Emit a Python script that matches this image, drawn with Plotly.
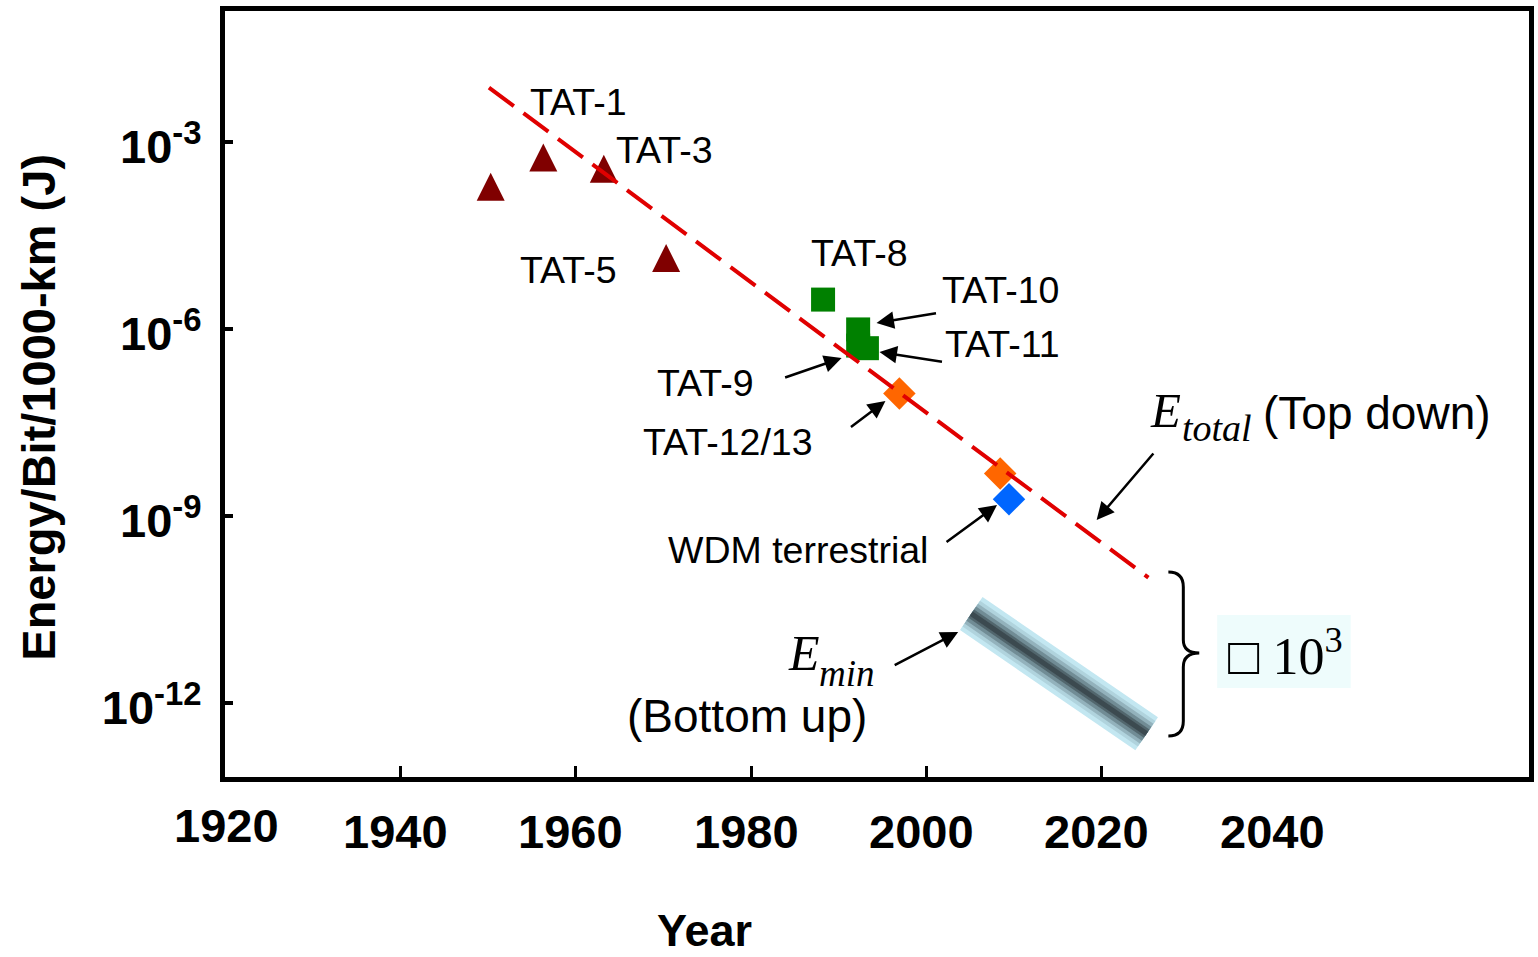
import plotly.graph_objects as go

# ---------------- data ----------------
tri_years = [1950.3, 1956.3, 1963.2, 1970.3]
tri_energy = [3.2e-4, 9.4e-4, 6.2e-4, 2.3e-5]
tri_names = ["", "TAT-1", "TAT-3", "TAT-5"]

sq_years = [1988.2, 1992.2, 1992.2, 1993.2]
sq_energy = [2.95e-6, 9.8e-7, 5.4e-7, 4.9e-7]
sq_names = ["TAT-8", "TAT-10", "TAT-9", "TAT-11"]

or_years = [1996.9, 2008.4]
or_energy = [9.2e-8, 4.8e-9]
or_names = ["TAT-12/13", ""]

wdm_years = [2009.4]
wdm_energy = [1.85e-9]

etotal_years = [1950.1, 2025.3]
etotal_energy = [7.45e-3, 1.02e-10]

emin_years = [2005.1, 2025.1]
emin_energy = [2.7e-11, 3.2e-13]

x_tick_labels = [1920, 1940, 1960, 1980, 2000, 2020, 2040]
x_tick_marks = [1940, 1960, 1980, 2000, 2020]
y_tick_vals = [1e-3, 1e-6, 1e-9, 1e-12]
y_tick_text = ["10<sup>-3</sup>", "10<sup>-6</sup>", "10<sup>-9</sup>", "10<sup>-12</sup>"]

# ---------------- layout helpers ----------------
W_PAGE, H_PAGE = 1538, 957
L, T, R, B = 225, 11, 4, 180
PW = W_PAGE - L - R
PH = H_PAGE - T - B

def px(x):
    return (x - L) / PW

def py(y):
    return (T + PH - y) / PH

SANS = "Liberation Sans, Arial, sans-serif"
SERIF = "Liberation Serif, Times New Roman, serif"

fig = go.Figure()

# E_min band (layered to imitate gradient)
band_layers = [(40, "#c3e7f1"), (31, "#b0d3dd"), (24, "#93b2bc"),
               (17, "#718c95"), (10, "#52666d"), (5, "#3c4a50")]
for w, c in band_layers:
    fig.add_trace(go.Scatter(x=emin_years, y=emin_energy, mode="lines",
                             line=dict(color=c, width=w), hoverinfo="skip",
                             showlegend=False))

fig.add_trace(go.Scatter(x=tri_years, y=tri_energy, mode="markers",
                         marker=dict(symbol="arrow-up", size=28, color="#800000"),
                         text=tri_names, showlegend=False))
fig.add_trace(go.Scatter(x=sq_years, y=sq_energy, mode="markers",
                         marker=dict(symbol="square", size=24, color="#008000"),
                         text=sq_names, showlegend=False))
fig.add_trace(go.Scatter(x=or_years, y=or_energy, mode="markers",
                         marker=dict(symbol="diamond", size=25, color="#ff6600"),
                         text=or_names, showlegend=False))
fig.add_trace(go.Scatter(x=wdm_years, y=wdm_energy, mode="markers",
                         marker=dict(symbol="diamond", size=25, color="#0066ff"),
                         text=["WDM terrestrial"], showlegend=False))
fig.add_trace(go.Scatter(x=etotal_years, y=etotal_energy, mode="lines",
                         line=dict(color="#e00000", width=4, dash="31px,12px"),
                         showlegend=False))

annotations = []

def label(text, x, y, size=37.5, family=SANS, xanchor="center", yanchor="middle", **kw):
    annotations.append(dict(text=text, x=px(x), y=py(y), xref="paper", yref="paper",
                            showarrow=False, xanchor=xanchor, yanchor=yanchor, borderpad=0,
                            font=dict(family=family, size=size, color="black"), **kw))

def arrow(tip, tail):
    annotations.append(dict(text="", x=px(tip[0]), y=py(tip[1]), xref="paper", yref="paper",
                            ax=tail[0] - tip[0], ay=tail[1] - tip[1], showarrow=True,
                            arrowhead=2, arrowsize=1.4, arrowwidth=2.5, arrowcolor="black",
                            standoff=0, startstandoff=0))

label("TAT-1", 580, 102)
label("TAT-3", 666, 150)
label("TAT-5", 570, 270)
label("TAT-8", 862, 253)
label("TAT-10", 1003, 290)
label("TAT-11", 1005, 344)
label("TAT-9", 707, 383)
label("TAT-12/13", 730, 442)
label("WDM terrestrial", 800, 550)

label("<i>E</i>", 1169, 410, size=49, family=SERIF)
label("<i>total</i>", 1221, 428, size=38, family=SERIF)
label("(Top down)", 1381, 413, size=46)
label("<i>E</i>", 806, 653, size=50, family=SERIF)
label("<i>min</i>", 849, 673, size=37, family=SERIF)
label("(Bottom up)", 749, 716, size=46)

arrow((879, 323), (940, 313))
arrow((882, 352), (946, 362))
arrow((844, 358), (786, 378))
arrow((888, 401), (852, 428))
arrow((1000, 505), (948, 543))
arrow((1100, 520), (1158, 452))
arrow((961, 632), (896, 666))

# factor box
label("\u25a1 10<sup>3</sup>", 1290, 652, size=52, family=SERIF)

# x tick labels
for v in x_tick_labels:
    yy = 825 if v == 1920 else 831
    annotations.append(dict(text="<b>%d</b>" % v, x=v, y=py(yy), xref="x", yref="paper",
                            xshift=(1 if v == 1920 else -5), showarrow=False,
                            xanchor="center", yanchor="middle", borderpad=0,
                            font=dict(family=SANS, size=47, color="black")))

# axis titles
label("<b>Energy/Bit/1000-km (J)</b>", 38, 407, size=47, textangle=-90)
label("<b>Year</b>", 706, 930, size=45)

# brace path (pixel -> paper)
def P(x, y):
    return "%.5f,%.5f" % (px(x), py(y))

brace = ("M" + P(1172, 572) + " Q" + P(1187, 572) + " " + P(1187, 587) +
         " L" + P(1187, 640) + " Q" + P(1187, 653) + " " + P(1203, 653) +
         " Q" + P(1187, 653) + " " + P(1187, 667) +
         " L" + P(1187, 721) + " Q" + P(1187, 736) + " " + P(1172, 736))

shapes = [
    dict(type="rect", xref="paper", yref="paper", x0=px(1221), x1=px(1355),
         y0=py(688), y1=py(615), fillcolor="#eefcfc", line=dict(width=0), layer="below"),
    dict(type="path", xref="paper", yref="paper", path=brace,
         line=dict(color="black", width=3)),
]

fig.update_layout(
    width=W_PAGE, height=H_PAGE,
    margin=dict(l=L, r=R, t=T, b=B),
    paper_bgcolor="white", plot_bgcolor="white",
    showlegend=False,
    annotations=annotations, shapes=shapes,
    xaxis=dict(range=[1920, 2068.7], showgrid=False, zeroline=False,
               tickmode="array", tickvals=x_tick_marks, showticklabels=False,
               ticks="inside", ticklen=11, tickwidth=3, tickcolor="black",
               showline=True, linewidth=5, linecolor="black", mirror=True),
    yaxis=dict(type="log", range=[-13.19, -0.9], showgrid=False, zeroline=False,
               tickmode="array", tickvals=y_tick_vals, ticktext=y_tick_text,
               ticks="inside", ticklen=8, tickwidth=4, tickcolor="black",
               ticklabelstandoff=9, ticklabelshift=5,
               tickfont=dict(family=SANS, size=47, color="black", weight="bold"),
               showline=True, linewidth=5, linecolor="black", mirror=True),
)

fig.write_html("out.html")
